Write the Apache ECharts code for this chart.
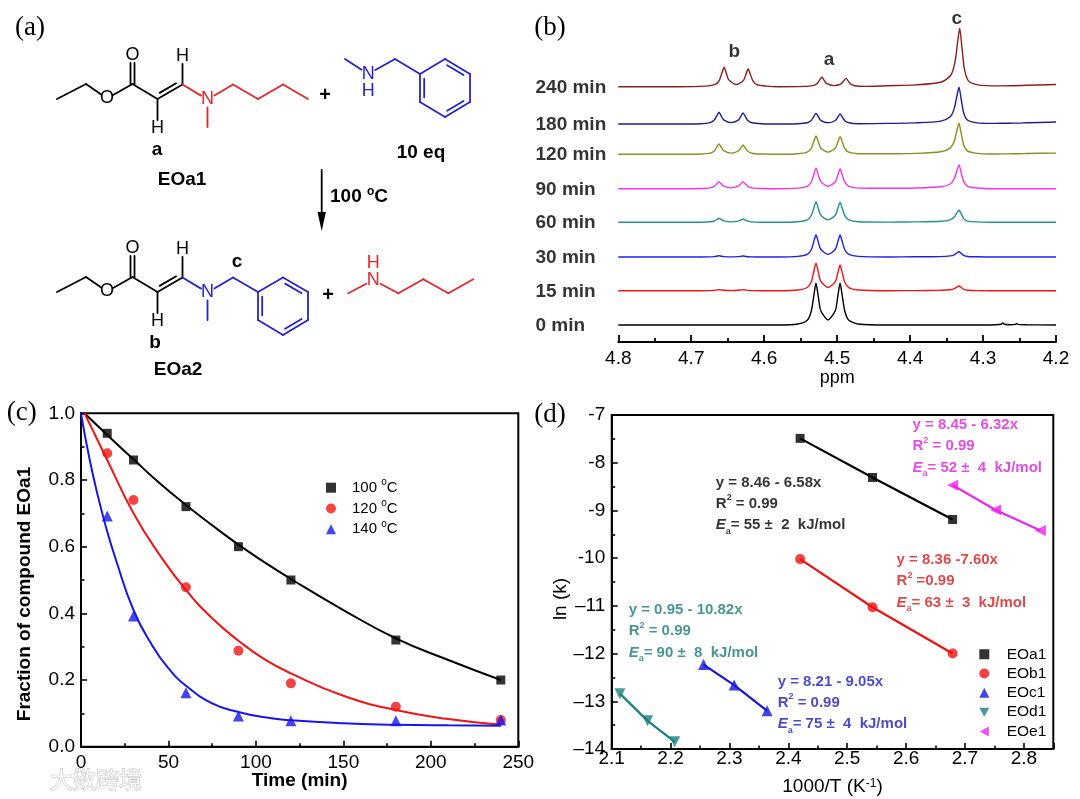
<!DOCTYPE html>
<html lang="en">
<head>
<meta charset="UTF-8">
<title>EOa1 / benzylmethylamine exchange</title>
<script src="https://cdn.jsdelivr.net/npm/echarts@6.0.0/dist/echarts.min.js"></script>
<style>
  html, body { margin: 0; padding: 0; background: #fff; }
  #main { width: 1080px; height: 799px; }
</style>
</head>
<body>
<div id="main"></div>
<script>
// ---------- (b) 1H NMR traces, 4.8 - 4.2 ppm ----------
const traceNames = ['0 min', '15 min', '30 min', '60 min', '90 min', '120 min', '180 min', '240 min'];
const traceBase = [17, 51.3, 85, 119.7, 153.3, 187.7, 218, 255.3];   // stacking offset of each trace

// sample points: baseline, b doublet, gap, a doublet, gap, c singlet, tail
const ppmGrid = [4.80, 4.72,
  4.687, 4.674, 4.6685, 4.665, 4.662, 4.659, 4.6555, 4.6455, 4.6355, 4.632, 4.629, 4.626, 4.6225, 4.617, 4.604,
  4.58,
  4.554, 4.541, 4.5355, 4.532, 4.529, 4.526, 4.5225, 4.5125, 4.5025, 4.499, 4.496, 4.493, 4.4895, 4.484, 4.471,
  4.43,
  4.393, 4.358, 4.345, 4.3395, 4.336, 4.333, 4.330, 4.3265, 4.321, 4.308,
  4.29, 4.275, 4.273, 4.271, 4.262, 4.256, 4.254, 4.252, 4.24, 4.20];
const ppmGrid240 = [4.80, 4.72,
  4.680, 4.667, 4.6615, 4.658, 4.655, 4.652, 4.6485, 4.6385, 4.6285, 4.625, 4.622, 4.619, 4.6155, 4.610, 4.597,
  4.58,
  4.546, 4.533, 4.5275, 4.524, 4.521, 4.518, 4.5145, 4.5045, 4.4945, 4.491, 4.488, 4.485, 4.4815, 4.476, 4.463,
  4.43,
  4.392, 4.357, 4.344, 4.3385, 4.335, 4.332, 4.329, 4.3255, 4.320, 4.307,
  4.28, 4.24, 4.20];

const int0 = [0, 0,
  0, 0, 0, 0, 0, 0, 0, 0, 0, 0, 0, 0, 0, 0, 0,
  0,
  1.0, 4.8, 13.8, 29.2, 41.7, 29.2, 14.6, 5.0, 14.6, 29.2, 41.7, 29.2, 13.8, 4.8, 1.0,
  0,
  0, 0, 0, 0, 0, 0, 0, 0, 0, 0,
  0, 0.8, 2, 0.8, 0.3, 0.6, 1.5, 0.6, 0.2, 0];
const int15 = [0, 0,
  0, 0.1, 0.3, 0.7, 1, 0.7, 0.4, 0.1, 0.4, 0.7, 1, 0.7, 0.3, 0.1, 0,
  0,
  0.7, 3.2, 9.0, 19.2, 27.4, 19.2, 9.6, 3.2, 9.0, 18.0, 25.7, 18.0, 8.5, 3.0, 0.7,
  0,
  0.1, 0.4, 0.9, 2.0, 3.5, 4.7, 3.2, 1.4, 0.5, 0.1,
  0, 0, 0, 0, 0, 0, 0, 0, 0, 0];
const int30 = [0, 0,
  0, 0.1, 0.4, 0.8, 1.2, 0.8, 0.4, 0.1, 0.4, 0.7, 1, 0.7, 0.3, 0.1, 0,
  0,
  0.6, 2.6, 7.3, 15.4, 22, 15.4, 7.7, 2.6, 7.7, 15.4, 22, 15.4, 7.3, 2.6, 0.6,
  0,
  0.2, 0.4, 1.1, 2.2, 4.0, 5.3, 3.6, 1.6, 0.5, 0.2,
  0, 0, 0, 0, 0, 0, 0, 0, 0, 0];
const int60 = [0, 0,
  0.1, 0.5, 1.3, 2.8, 4, 2.8, 1.4, 0.4, 1.2, 2.3, 3.3, 2.3, 1.1, 0.4, 0.1,
  0,
  0.6, 2.5, 6.8, 14.4, 20.6, 14.4, 7.2, 2.4, 7.0, 14.0, 20, 14.0, 6.6, 2.4, 0.6,
  0.2,
  0.4, 1.0, 2.5, 5.2, 9.2, 12.3, 8.4, 3.7, 1.2, 0.4,
  0, 0, 0, 0, 0, 0, 0, 0, 0, 0];
const int90 = [0, 0,
  0.2, 0.8, 2.3, 4.9, 7, 4.9, 2.5, 0.8, 2.5, 4.9, 7, 4.9, 2.3, 0.8, 0.2,
  0,
  0.6, 2.4, 6.7, 14.3, 20.4, 14.3, 7.1, 2.4, 6.9, 13.8, 19.7, 13.8, 6.5, 2.4, 0.6,
  0.4,
  0.7, 1.9, 4.7, 10.0, 17.8, 23.7, 16.1, 7.1, 2.4, 0.7,
  0, 0, 0, 0, 0, 0, 0, 0, 0, 0];
const int120 = [0, 0,
  0.3, 1.2, 3.4, 7.2, 10.3, 7.2, 3.6, 1.2, 3.3, 6.5, 9.3, 6.5, 3.1, 1.1, 0.3,
  0,
  0.6, 2.2, 6.0, 12.8, 18.3, 12.8, 6.4, 2.2, 6.2, 12.4, 17.7, 12.4, 5.8, 2.1, 0.6,
  0.5,
  0.9, 2.5, 6.2, 13.0, 23.3, 31, 21.1, 9.3, 3.1, 0.9,
  0.3, 0.4, 0.4, 0.4, 0.5, 0.5, 0.6, 0.6, 0.8, 1.2];
const int180 = [0, 0,
  0.3, 1.4, 3.9, 8.2, 11.7, 8.2, 4.1, 1.4, 3.9, 7.7, 11, 7.7, 3.6, 1.3, 0.3,
  0,
  0.3, 1.3, 3.5, 7.5, 10.7, 7.5, 3.7, 1.2, 3.5, 7.0, 10, 7.0, 3.3, 1.2, 0.3,
  0.6,
  1.1, 2.9, 7.3, 15.4, 27.5, 36.7, 25.0, 11.0, 3.7, 1.1,
  0.6, 0.7, 0.7, 0.7, 0.8, 0.9, 0.9, 0.9, 1.2, 2.0];
const int240 = [0, 0,
  0.6, 2.3, 6.4, 13.6, 19.4, 13.6, 6.8, 2.2, 6.2, 12.4, 17.7, 12.4, 5.8, 2.1, 0.6,
  0,
  0.3, 1.1, 3.1, 6.6, 9.4, 6.6, 3.3, 1.1, 2.9, 5.8, 8.3, 5.8, 2.7, 1.0, 0.3,
  1.0,
  1.8, 4.7, 11.7, 24.5, 43.8, 58.4, 39.7, 17.5, 5.8, 1.8,
  0.8, 1.4, 2.2];
const traceInts = [int0, int15, int30, int60, int90, int120, int180, int240];
const traceGrids = [ppmGrid, ppmGrid, ppmGrid, ppmGrid, ppmGrid, ppmGrid, ppmGrid, ppmGrid240];

const peakNames = ['b', 'a', 'c'];
const peakPpm = [4.641, 4.511, 4.336];
const peakLevel = [290.3, 282.7, 323.7];

// ---------- (c) fraction of EOa1 vs time ----------
const timeMin = [15, 30, 60, 90, 120, 180, 240];
const frac100 = [0.94, 0.86, 0.72, 0.60, 0.50, 0.32, 0.20];
const frac120 = [0.88, 0.74, 0.478, 0.288, 0.19, 0.12, 0.08];
const frac140 = [0.692, 0.392, 0.162, 0.092, 0.078, 0.078, 0.08];
const fitT100 = [2, 15, 30, 45, 60, 75, 90, 105, 120, 150, 180, 210, 240];
const fit100 = [1.0, 0.935, 0.862, 0.79, 0.725, 0.664, 0.606, 0.553, 0.503, 0.41, 0.325, 0.26, 0.20];
const fitT120 = [2, 15, 30, 45, 60, 75, 90, 105, 120, 150, 180, 210, 240];
const fit120 = [1.0, 0.86, 0.70, 0.575, 0.47, 0.385, 0.318, 0.262, 0.22, 0.153, 0.11, 0.083, 0.066];
const fitT140 = [0, 5, 10, 15, 20, 30, 40, 50, 60, 75, 90, 105, 120, 150, 180, 210, 240];
const fit140 = [1.0, 0.86, 0.745, 0.645, 0.56, 0.41, 0.31, 0.235, 0.183, 0.13, 0.104, 0.088, 0.079, 0.07, 0.066, 0.064, 0.063];

// ---------- (d) Arrhenius plot ----------
const invT_a = [2.420, 2.543, 2.679], lnk_a = [-7.49, -8.31, -9.19];
const invT_b = [2.420, 2.543, 2.679], lnk_b = [-10.02, -11.03, -12.0];
const invT_c = [2.256, 2.308, 2.364], lnk_c = [-12.23, -12.66, -13.2];
const invT_d = [2.114, 2.161, 2.207], lnk_d = [-12.84, -13.41, -13.85];
const invT_e = [2.679, 2.752, 2.828], lnk_e = [-8.47, -8.99, -9.42];
const fitEq = ['y = 8.46 - 6.58x', 'y = 8.45 - 6.32x', 'y = 8.36 -7.60x', 'y = 0.95 - 10.82x', 'y = 8.21 - 9.05x'];
const fitR2 = [' = 0.99', ' = 0.99', ' =0.99', ' = 0.99', ' = 0.99'];
const fitEa = ['= 55 \u00b1  2  kJ/mol', '= 52 \u00b1  4  kJ/mol', '= 63 \u00b1  3  kJ/mol', '= 90 \u00b1  8  kJ/mol', '= 75 \u00b1  4  kJ/mol'];

// ---------- styles ----------
const FONT = 'Arial, "Liberation Sans", Helvetica, sans-serif';
const SERIF = '"Times New Roman", "Liberation Serif", serif';
const traceColors = ['#000000', '#f01414', '#1e1ef0', '#22908f', '#f232f2', '#8e8e1e', '#1e1e8c', '#8c1e1e'];
const annoColors = ['#000000', '#dc1edc', '#d41c1c', '#1a7a7a', '#1c1cbc'];
const annoAnchors = [[2.276, -8.419], [2.610, -7.21], [2.583, -10.04], [2.128, -11.09], [2.381, -12.59]];
const RED = '#e3262b', BLUE = '#2424c8', INK = '#000';

const zip = (xs, ys) => xs.map((x, i) => [x, ys[i]]);

// ---------- (a) reaction scheme, drawn as graphic shapes ----------
const g = [];
function bond(p, q, color, tp, tq) {
  const dx = q[0] - p[0], dy = q[1] - p[1], L = Math.hypot(dx, dy);
  const ux = dx / L, uy = dy / L;
  tp = tp || 0; tq = tq || 0;
  g.push({ type: 'line', silent: true,
    shape: { x1: p[0] + ux * tp, y1: p[1] + uy * tp, x2: q[0] - ux * tq, y2: q[1] - uy * tq },
    style: { stroke: color, lineWidth: 1.8, lineCap: 'round' } });
}
// second line of a double bond, on the side of point s
function inner(p, q, s, color) {
  const dx = q[0] - p[0], dy = q[1] - p[1], L = Math.hypot(dx, dy);
  let nx = -dy / L, ny = dx / L;
  const mx = (p[0] + q[0]) / 2, my = (p[1] + q[1]) / 2;
  if ((s[0] - mx) * nx + (s[1] - my) * ny < 0) { nx = -nx; ny = -ny; }
  const k = 0.17, d = 4.2;
  bond([p[0] + dx * k + nx * d, p[1] + dy * k + ny * d], [q[0] - dx * k + nx * d, q[1] - dy * k + ny * d], color);
}
function txt(t, p, color, font, extra) {
  g.push({ type: 'text', silent: true, x: p[0], y: p[1],
    style: Object.assign({ text: t, fill: color || INK, font: font || ('18px ' + FONT),
      align: 'center', verticalAlign: 'middle' }, extra || {}) });
}
function ring(v, color) {
  for (let i = 0; i < 6; i++) bond(v[i], v[(i + 1) % 6], color);
  const cx = v.reduce((s, p) => s + p[0], 0) / 6, cy = v.reduce((s, p) => s + p[1], 0) / 6;
  [1, 3, 5].forEach(i => inner(v[i], v[(i + 1) % 6], [cx, cy], color));
}
function ester(dy, nColor) {
  const P = (x, y) => [x, y + dy];
  const c1 = P(57, 99), c2 = P(86, 84), o1 = P(107, 98.5), c3 = P(132.5, 84), o2 = P(132.5, 55),
        c4 = P(157.5, 99), c5 = P(182.5, 84.5), hB = P(157.5, 128), hT = P(182.5, 56),
        n = P(207.5, 99.5), me = P(207.5, 127);
  bond(c1, c2, INK); bond(c2, o1, INK, 0, 7); bond(o1, c3, INK, 7, 0);
  bond([c3[0] - 2, c3[1]], [o2[0] - 2, o2[1] + 8], INK);
  bond([c3[0] + 2, c3[1]], [o2[0] + 2, o2[1] + 8], INK);
  bond(c3, c4, INK); bond(c4, c5, INK); inner(c4, c5, c3, INK);
  bond(c4, hB, INK, 0, 8); bond(c5, hT, INK, 0, 8);
  bond(c5, n, nColor, 0, 7.5); bond(n, me, nColor, 8, 0);
  txt('O', o1); txt('O', o2); txt('H', hB); txt('H', hT); txt('N', n, nColor);
  return n;
}
const BOLD19 = 'bold 19px ' + FONT;
// EOa1
const n1 = ester(0, RED);
bond(n1, [233, 84.5], RED, 8, 0); bond([233, 84.5], [258, 99], RED);
bond([258, 99], [283, 84.5], RED); bond([283, 84.5], [308, 99], RED);
txt('a', [157, 150], INK, BOLD19); txt('EOa1', [182, 180], INK, BOLD19);
txt('+', [325, 95], INK, 'bold 20px ' + FONT);
// N-methylbenzylamine
bond([345, 59], [368.3, 74], BLUE, 0, 8); bond([368.3, 74], [395, 59], BLUE, 8, 0); bond([395, 59], [420, 74], BLUE);
ring([[420, 74], [445, 59], [470, 74], [470, 102], [445, 117], [420, 102]], BLUE);
txt('N', [368.3, 74], BLUE); txt('H', [368.3, 91], BLUE);
txt('10 eq', [421, 153], INK, BOLD19);
// arrow
bond([321.7, 170], [321.7, 214], INK);
g.push({ type: 'polygon', silent: true, shape: { points: [[317.5, 212], [325.9, 212], [321.7, 231]] }, style: { fill: INK } });
g.push({ type: 'text', silent: true, x: 330, y: 197,
  style: { text: '{n|100 }{s|o}{n|C}', align: 'left', verticalAlign: 'middle', fill: INK,
    rich: { n: { fontSize: 19, fontWeight: 'bold', fontFamily: FONT, lineHeight: 22, verticalAlign: 'middle' },
            s: { fontSize: 12, fontWeight: 'bold', fontFamily: FONT, lineHeight: 12, verticalAlign: 'top' } } } });
// EOa2
const n2 = ester(193, BLUE);
bond(n2, [233, 277.5], BLUE, 8, 0); bond([233, 277.5], [258, 292], BLUE);
ring([[258, 292], [283, 277.5], [308, 292], [308, 320], [283, 335], [258, 320]], BLUE);
txt('c', [237, 262], INK, BOLD19);
txt('b', [155, 343], INK, BOLD19); txt('EOa2', [178, 370], INK, BOLD19);
txt('+', [328, 295], INK, 'bold 20px ' + FONT);
// n-butyl methylamine
bond([348.3, 293.3], [373.3, 280], RED, 0, 8); bond([373.3, 280], [398.3, 293.3], RED, 8, 0);
bond([398.3, 293.3], [423.3, 279.3], RED); bond([423.3, 279.3], [448.3, 293.3], RED); bond([448.3, 293.3], [473.3, 279.3], RED);
txt('N', [373.3, 280], RED); txt('H', [373.3, 263.5], RED);

// panel letters and watermark
txt('(a)', [30, 28], INK, '27px ' + SERIF);
txt('(b)', [550, 28], INK, '27px ' + SERIF);
txt('(c)', [21.7, 413], INK, '27px ' + SERIF);
txt('(d)', [550, 415], INK, '27px ' + SERIF);
txt('\u5927\u6570\u8de8\u5883', [96, 779], 'rgba(255,255,255,0.9)', '23px "Noto Sans CJK SC"', { stroke: '#bdbdbd', lineWidth: 1 });

// ---------- axes ----------
function valAxis(o) {
  return Object.assign({
    type: 'value',
    axisLine: { show: true, onZero: false, lineStyle: { color: '#000', width: 2 } },
    axisTick: { show: true, inside: true, length: 6, lineStyle: { color: '#000', width: 1.6 } },
    minorTick: { show: true, splitNumber: 2, length: 3.5, lineStyle: { color: '#000', width: 1.6 } },
    splitLine: { show: false },
    nameLocation: 'middle',
    nameMoveOverlap: false,
    nameTextStyle: { color: '#000', fontSize: 19, fontFamily: FONT }
  }, o);
}
const tickLabel = (extra) => Object.assign({ color: '#000', fontSize: 19, fontFamily: FONT }, extra);

const xAxis = [
  valAxis({ gridIndex: 0, min: 4.2, max: 4.8, interval: 0.1, inverse: true,
    axisLine: { show: true, onZero: false, lineStyle: { color: '#000', width: 1.8 } },
    axisTick: { show: true, inside: true, length: 7, lineStyle: { color: '#000', width: 1.8 } },
    minorTick: { show: true, splitNumber: 2, length: 4, lineStyle: { color: '#000', width: 1.8 } },
    axisLabel: tickLabel({ margin: 7, formatter: v => v.toFixed(1) }),
    name: 'ppm', nameGap: 27.5, nameTextStyle: { color: '#000', fontSize: 18, fontFamily: FONT } }),
  valAxis({ gridIndex: 1, min: 0, max: 250, interval: 50,
    axisLabel: tickLabel({ margin: 7 }),
    name: 'Time (min)', nameGap: 24.3,
    nameTextStyle: { color: '#000', fontSize: 19, fontWeight: 'bold', fontFamily: FONT } }),
  valAxis({ gridIndex: 2, min: 2.1, max: 2.85, interval: 0.1,
    axisLabel: tickLabel({ margin: 0, formatter: v => (v > 2.84 ? '' : v.toFixed(1)) }),
    name: '{n|1000/T (K}{s|-1}{n|)}', nameGap: 28.5,
    nameTextStyle: { color: '#000', fontSize: 19, fontFamily: FONT,
      rich: { n: { fontSize: 19, fontFamily: FONT, color: '#000', lineHeight: 19, verticalAlign: 'middle' },
              s: { fontSize: 12, fontFamily: FONT, color: '#000', lineHeight: 11, verticalAlign: 'top' } } } })
];
const yAxis = [
  { gridIndex: 0, type: 'value', min: 0, max: 332, show: false },
  valAxis({ gridIndex: 1, min: 0, max: 1, interval: 0.2,
    axisLabel: tickLabel({ margin: 6, formatter: v => v.toFixed(1) }),
    name: 'Fraction of compound EOa1', nameRotate: 90, nameGap: 46.8,
    nameTextStyle: { color: '#000', fontSize: 19, fontWeight: 'bold', fontFamily: FONT, padding: [0, 28, 0, 0] } }),
  valAxis({ gridIndex: 2, min: -14, max: -7, interval: 1,
    axisLabel: tickLabel({ margin: 6.5, formatter: v => (v <= -11 ? '\u2013' + (-v) : String(v)) }),
    name: 'ln (k)', nameRotate: 90, nameGap: 41.4,
    nameTextStyle: { color: '#000', fontSize: 19, fontFamily: FONT, padding: [0, 34, 0, 0] } })
];

// ---------- series ----------
const series = [];
traceInts.forEach((arr, i) => {
  series.push({ type: 'line', xAxisIndex: 0, yAxisIndex: 0, silent: true,
    data: traceGrids[i].map((p, j) => [p, traceBase[i] + arr[j]]),
    showSymbol: false, smooth: 0.25, lineStyle: { color: traceColors[i], width: 1.4 } });
});
series.push({ type: 'scatter', xAxisIndex: 0, yAxisIndex: 0, silent: true, symbolSize: 1,
  itemStyle: { color: 'transparent' },
  data: traceNames.map((n, i) => ({ name: n, value: [4.8, traceBase[i]] })),
  label: { show: true, position: 'left', distance: 0, align: 'left', offset: [-82.3, 0.6],
    formatter: '{b}', color: '#000', fontSize: 19, fontWeight: 'bold', fontFamily: FONT } });
series.push({ type: 'scatter', xAxisIndex: 0, yAxisIndex: 0, silent: true, symbolSize: 1,
  itemStyle: { color: 'transparent' },
  data: peakNames.map((n, i) => ({ name: n, value: [peakPpm[i], peakLevel[i]] })),
  label: { show: true, position: 'inside', formatter: '{b}', color: '#000', fontSize: 19, fontWeight: 'bold', fontFamily: FONT } });

// (c)
const cSets = [
  { name: '100 oC', pts: frac100, ft: fitT100, fv: fit100, color: '#000000', symbol: 'rect', size: 9 },
  { name: '120 oC', pts: frac120, ft: fitT120, fv: fit120, color: '#f01414', symbol: 'circle', size: 10 },
  { name: '140 oC', pts: frac140, ft: fitT140, fv: fit140, color: '#1515ee', symbol: 'triangle', size: 11 }
];
cSets.forEach(s => {
  series.push({ type: 'line', xAxisIndex: 1, yAxisIndex: 1, silent: true, data: zip(s.ft, s.fv),
    showSymbol: false, smooth: 0.5, lineStyle: { color: s.color, width: 2 } });
});
cSets.forEach(s => {
  series.push({ type: 'scatter', name: s.name, xAxisIndex: 1, yAxisIndex: 1, data: zip(timeMin, s.pts),
    symbol: s.symbol, symbolSize: s.size, itemStyle: { color: s.color }, z: 3 });
});

// (d)
const TRI_DOWN = 'path://M0,0 L10,0 L5,9 Z';
const TRI_LEFT = 'path://M9,0 L9,10 L0,5 Z';
const dSets = [
  { name: 'EOa1', x: invT_a, y: lnk_a, color: '#000000', symbol: 'rect', icon: 'rect', rot: 0, size: 9 },
  { name: 'EOb1', x: invT_b, y: lnk_b, color: '#ee1111', symbol: 'circle', icon: 'circle', rot: 0, size: 10 },
  { name: 'EOc1', x: invT_c, y: lnk_c, color: '#1515dd', symbol: 'triangle', icon: 'triangle', rot: 0, size: 11 },
  { name: 'EOd1', x: invT_d, y: lnk_d, color: '#1a8080', symbol: 'triangle', icon: TRI_DOWN, rot: 180, size: 11 },
  { name: 'EOe1', x: invT_e, y: lnk_e, color: '#ee22ee', symbol: 'triangle', icon: TRI_LEFT, rot: 90, size: 11 }
];
dSets.forEach(s => {
  series.push({ type: 'line', xAxisIndex: 2, yAxisIndex: 2, silent: true, data: zip(s.x, s.y),
    showSymbol: false, lineStyle: { color: s.color, width: 2.2 } });
});
dSets.forEach(s => {
  series.push({ type: 'scatter', name: s.name, xAxisIndex: 2, yAxisIndex: 2, data: zip(s.x, s.y),
    symbol: s.symbol, symbolRotate: s.rot, symbolSize: s.size, itemStyle: { color: s.color }, z: 3 });
});
fitEq.forEach((eq, i) => {
  const c = annoColors[i];
  const base = { color: c, fontFamily: FONT, fontWeight: 'bold' };
  series.push({ type: 'scatter', xAxisIndex: 2, yAxisIndex: 2, silent: true, symbolSize: 1,
    itemStyle: { color: 'transparent' }, data: [annoAnchors[i]],
    label: { show: true, position: 'right', distance: 0, align: 'left', verticalAlign: 'top', offset: [0, -10.6],
      formatter: '{t|' + eq + '}\n{t|R}{sup|2}{t|' + fitR2[i] + '}\n{it|E}{sub|a}{t|' + fitEa[i] + '}',
      rich: {
        t: Object.assign({ fontSize: 15, lineHeight: 21.2, verticalAlign: 'middle' }, base),
        it: Object.assign({ fontSize: 15, lineHeight: 21.2, verticalAlign: 'middle', fontStyle: 'italic' }, base),
        sup: Object.assign({ fontSize: 9, lineHeight: 10, verticalAlign: 'top' }, base),
        sub: Object.assign({ fontSize: 9, lineHeight: 9, verticalAlign: 'bottom' }, base)
      } } });
});

const chart = echarts.init(document.getElementById('main'), null, { renderer: 'canvas' });
chart.setOption({
  animation: false,
  backgroundColor: '#fff',
  grid: [
    { left: 618.3, top: 10, width: 437.7, height: 332, outerBoundsMode: 'none' },
    { left: 81, top: 413.3, width: 437.3, height: 333.4, show: true, borderColor: '#000', borderWidth: 2, outerBoundsMode: 'none' },
    { left: 611.7, top: 415, width: 441.6, height: 334, show: true, borderColor: '#000', borderWidth: 2, outerBoundsMode: 'none' }
  ],
  xAxis: xAxis,
  yAxis: yAxis,
  legend: [
    { left: 321, top: 472.3, orient: 'vertical', itemWidth: 10, itemHeight: 10, itemGap: 0, selectedMode: false,
      symbolKeepAspect: true,
      data: cSets.map(s => s.name),
      formatter: name => '{p| }{n|' + name.split(' ')[0] + ' }{s|o}{n|C}',
      textStyle: { color: '#000', fontSize: 15, fontFamily: FONT, lineHeight: 20.8,
        rich: { p: { width: 11, lineHeight: 20.8 },
                n: { fontSize: 15, fontFamily: FONT, color: '#000', lineHeight: 20.8, verticalAlign: 'middle' },
                s: { fontSize: 10, fontFamily: FONT, color: '#000', lineHeight: 10, verticalAlign: 'top' } } } },
    { left: 974.3, top: 639.6, orient: 'vertical', itemWidth: 10, itemHeight: 10, itemGap: 0, selectedMode: false,
      symbolKeepAspect: true,
      data: dSets.map(s => ({ name: s.name, icon: s.icon })),
      formatter: name => '{p| }{n|' + name + '}',
      textStyle: { color: '#000', fontSize: 15.5, fontFamily: FONT, lineHeight: 19.3,
        rich: { p: { width: 12.4, lineHeight: 19.3 },
                n: { fontSize: 15.5, fontFamily: FONT, color: '#000', lineHeight: 19.3, verticalAlign: 'middle' } } } }
  ],
  graphic: { elements: g },
  series: series
});
</script>
</body>
</html>
